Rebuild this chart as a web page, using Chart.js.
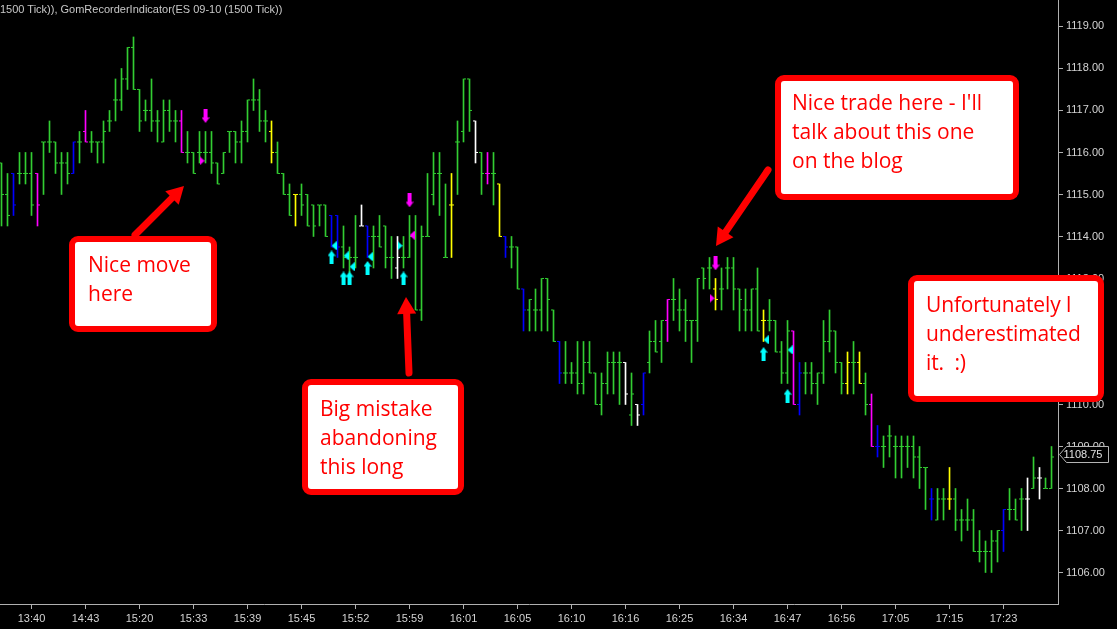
<!DOCTYPE html>
<html><head><meta charset="utf-8">
<script src="https://cdn.jsdelivr.net/npm/chart.js@4.4.0/dist/chart.umd.min.js"></script>
<style>
html,body{margin:0;padding:0;background:#000;overflow:hidden;}
#wrap{position:relative;width:1117px;height:629px;background:#000;}
#c{position:absolute;left:0;top:0;}
.box{position:absolute;box-sizing:border-box;border:6px solid #ff0000;border-radius:9px;background:#fff;}
.txt{position:absolute;font-family:'Open Sans',sans-serif;font-size:21px;line-height:29px;color:#ff0000;white-space:nowrap;}
#hdr{position:absolute;left:0;top:3px;font-family:'Liberation Sans',Arial,sans-serif;font-size:11px;line-height:13px;color:#c8c8c8;white-space:nowrap;letter-spacing:0px;}
svg{position:absolute;left:0;top:0;}
</style></head>
<body>
<div id="wrap">
<canvas id="c" width="1117" height="629"></canvas>
<div id="hdr">1500 Tick)), GomRecorderIndicator(ES 09-10 (1500 Tick))</div>
<svg id="arrows" width="1117" height="629"></svg>
<div class="box" style="left:69px;top:236px;width:148px;height:96px;"></div>
<div class="txt" style="left:88px;top:250px;">Nice move<br>here</div>
<div class="box" style="left:302px;top:379px;width:162px;height:116px;"></div>
<div class="txt" style="left:320px;top:394px;">Big mistake<br>abandoning<br>this long</div>
<div class="box" style="left:775px;top:75px;width:244px;height:125px;"></div>
<div class="txt" style="left:792px;top:88px;">Nice trade here - I'll<br>talk about this one<br>on the blog</div>
<div class="box" style="left:908px;top:275px;width:196px;height:127px;"></div>
<div class="txt" style="left:926px;top:290px;letter-spacing:-0.15px;">Unfortunately I<br>underestimated<br>it.&nbsp; :)</div>
</div>
<script>
// ---- data ----
const highs = [1115.75,1115.5,1115.5,1116,1116,1116,1115.5,1116.25,1116.75,1116.25,
 1116,1116,1116.25,1116.5,1117,1116.5,1116.25,1116.75,1117,1117.75,
 1118,1118.5,1118.75,1117.5,1117.25,1117.75,1117,1117.25,1117.25,1117,
 1117,1116.5,1116,1116.5,1116.5,1116.5,1115.75,1116,1116.5,1116.5,
 1116.75,1117.25,1117.75,1117.5,1117,1116.75,1116.25,1115.5,1115.25,1115,
 1115.25,1115,1114.75,1114.75,1114.75,1114.5,1114.5,1114.25,1113.75,1114.5,
 1114.75,1114.25,1114.25,1114.5,1114.25,1114,1114,1114,1114.5,1114.5,
 1114.25,1115.5,1116,1116,1115.25,1115.5,1116.75,1117.75,1117.75,1116.75,
 1116,1116,1116,1115.25,1114,1114,1113.75,1112.75,1112.5,1112.75,
 1113,1113,1112.25,1111.5,1111.5,1111,1111.5,1111.5,1111.5,1110.75,
 1110.75,1111.25,1111.25,1111.25,1111,1110.75,1110,1110.75,1111.75,1112,
 1112,1112.5,1113,1112.75,1112.5,1112,1113,1113.25,1113.5,1113,
 1113.25,1113.5,1113.5,1112.75,1112.75,1112.75,1113.25,1112.25,1112.5,1112,
 1111.5,1112,1111.75,1111,1111,1111,1110.75,1112,1112.25,1111.75,
 1111,1111.25,1111.5,1111.25,1110.75,1110.25,1109.5,1109.25,1109.5,1109.25,
 1109.25,1109.25,1109.25,1109,1108.5,1108,1108,1108,1108.5,1108,
 1107.5,1107.75,1107.5,1107,1106.75,1107,1107,1107.5,1108,1107.75,
 1108,1108.25,1108.75,1108.5,1108.25,1109];
const lows = [1114.25,1114.25,1114.5,1115.25,1115.25,1114.5,1114.25,1115,1116,1115.5,
 1115,1115.25,1115.5,1115.75,1116.25,1116,1115.75,1115.75,1116.5,1116.75,
 1117,1117.5,1117.5,1116.5,1116.75,1116.5,1116.25,1116.25,1116.5,1116.25,
 1116,1115.75,1115.5,1115.75,1115.75,1115.5,1115.25,1115.5,1116,1115.75,
 1115.75,1116.25,1117,1116.5,1116.25,1115.75,1115.5,1115,1114.5,1114.25,
 1114.5,1114.25,1114,1114.25,1114,1113.75,1113.5,1113.25,1113,1113.25,
 1114.25,1113.5,1113.25,1113.75,1113.25,1113,1113,1113.25,1113.5,1112.25,
 1112,1114,1114.75,1114.5,1113.5,1113.5,1115,1116.25,1116.5,1115.75,
 1115,1115.25,1114.75,1114,1113.5,1113.25,1112.75,1111.75,1111.75,1111.75,
 1111.75,1111.75,1111.5,1110.5,1110.5,1110.5,1110.25,1110.25,1110.75,1110,
 1109.75,1110.25,1110.25,1110,1110,1109.5,1109.5,1109.75,1110.75,1111.25,
 1111,1111.5,1112,1111.75,1111.5,1111,1111.5,1112.75,1112.75,1112.25,
 1112.25,1112.75,1112.25,1111.75,1111.75,1111.75,1111.75,1111.5,1111.75,1111.25,
 1110.5,1110.5,1110,1109.75,1110.25,1110.25,1110,1110.5,1111.25,1110.75,
 1110.25,1110.25,1110.25,1110.5,1109.75,1109,1108.75,1108.5,1108.75,1108.25,
 1108.25,1108.5,1108.25,1108,1107.5,1107.25,1107.25,1107.25,1107.5,1107,
 1106.75,1107,1106.5,1106.25,1106,1106,1106.25,1106.5,1107.25,1107.25,
 1107,1107,1108,1107.75,1108,1108];
const opens = [1115.75,1115,1115.5,1115.5,1115.5,1115.5,1115.5,1116.25,1116.25,1116.25,
 1115.75,1115.75,1115.5,1116.25,1116.5,1116.25,1116.25,1116.25,1116.75,1117.25,
 1117.25,1117.75,1118.5,1117.5,1117,1117,1116.75,1116.25,1117,1116.75,
 1116.75,1116,1116,1116,1116,1116,1115.75,1115.5,1116.5,1116.5,
 1116.25,1116.5,1117.25,1117.25,1116.75,1116.5,1116,1115.5,1115,1115,
 1115,1115,1114.75,1114.75,1114.75,1114.5,1114.5,1113.75,1113.5,1113.5,
 1114.25,1114.25,1114,1114,1114.25,1113.5,1113.25,1113.5,1113.5,1114,
 1112.25,1114,1115,1115.5,1113.5,1114.75,1116.25,1116.5,1117.75,1116.75,
 1116,1115.5,1115.5,1115.25,1114,1113.75,1113.75,1112.75,1112.25,1112.25,
 1112.25,1113,1112.25,1111.5,1110.75,1110.75,1110.75,1110.5,1111,1110.75,
 1110,1110.5,1111,1111,1111,1109.75,1110,1110,1111,1111.5,
 1111.5,1112,1112.5,1112.25,1112.25,1112,1112,1113.25,1113.25,1112.75,
 1112.75,1113.25,1113.25,1112.75,1112.25,1112.25,1112.75,1112,1112,1112,
 1111.25,1110.75,1111.75,1110,1110.75,1110.75,1110.5,1110.75,1111.5,1111.75,
 1111,1110.5,1111,1111,1110.5,1110,1109,1109,1109.25,1109,
 1109,1109,1109,1108.75,1108.5,1107.75,1107.25,1107.75,1107.75,1107.75,
 1107.25,1107.25,1107.25,1106.5,1106.5,1106.5,1106.75,1107,1107.5,1107.5,
 1107.75,1107.75,1108,1108.25,1108,1108];
const closes = [1115,1114.5,1114.75,1115.5,1115.5,1114.75,1114.75,1116.25,1116.25,1115.75,
 1115.75,1115.5,1116.25,1116.25,1116.25,1116.25,1116.25,1116.5,1116.75,1117.25,
 1117.75,1118.5,1117.5,1116.75,1117,1116.75,1116.75,1117,1116.75,1116.75,
 1116,1116,1115.5,1116,1116,1115.75,1115.25,1116,1116.5,1116.25,
 1116.5,1117.25,1117.25,1116.75,1116.75,1116,1115.5,1115,1114.5,1115,
 1114.75,1114.25,1114.25,1114.75,1114,1113.75,1113.75,1113.5,1113.5,1113.5,
 1114.25,1114,1114,1113.75,1113.5,1113.5,1113.5,1113.5,1114,1112.25,
 1114,1114,1115.5,1115.5,1113.5,1114.75,1116.25,1117.75,1117,1116,
 1115.5,1115.5,1115.5,1114,1113.75,1113.75,1112.75,1112.25,1112.5,1112.25,
 1113,1112.5,1111.5,1110.75,1110.75,1110.75,1110.5,1111,1110.75,1110,
 1110.5,1111,1111,1111,1110.25,1110.25,1109.75,1110.75,1111.5,1111.25,
 1112,1112.5,1112.5,1112.25,1112,1112,1113,1113,1113.25,1112.5,
 1112.75,1113.25,1112.75,1112.5,1112.25,1112.75,1111.75,1112,1112,1111.25,
 1110.75,1111.75,1110,1110.75,1110.75,1110.5,1110.75,1111.5,1111.75,1111,
 1110.5,1111,1111,1110.5,1110,1109,1109,1109,1109.25,1109,
 1109,1109,1108.75,1108.5,1108.5,1107.75,1107.75,1107.75,1107.75,1107.25,
 1107.25,1107.25,1106.5,1106.5,1106.5,1106.75,1107,1107.5,1107.5,1107.25,
 1107.75,1107.75,1108.25,1108.25,1108,1108.75];
// bar colour codes: g green, m magenta, b blue, y yellow, w white
const barCodes = ("ggbgggmggg"+"ggbgmggggg"+"gggggggggg"+"mggggggggg"+"gggggygggy"+
  "gggggbbggg"+"wbggggwggg"+"gggggygggw"+"gmgybggbgg"+"gggbgggggg"+
  "ggggwgwbgg"+"gmgggggggy"+"gggggggygg"+"ggmbgggggg"+"gygygmbggg"+
  "gggggbggyg"+"gggggggbgg"+"gwgwgg").split('');
const tickIdx = [5,14,23,32,41,50,59,68,77,86,95,104,113,122,131,140,149,158,167];
const tickLabels = ['13:40','14:43','15:20','15:33','15:39','15:45','15:52','15:59','16:01','16:05',
  '16:10','16:16','16:25','16:34','16:47','16:56','17:05','17:15','17:23'];
const priceTicks = [1106,1107,1108,1109,1110,1111,1112,1113,1114,1115,1116,1117,1118,1119];
// signals: bar index + price
const cyanUpBars = [55,57,58,61,67,127,131];
const cyanUpPrices = [1113.5,1113.0,1113.0,1113.25,1113.0,1111.2,1110.2];
const cyanLeftBars = [55,57,58,61,127,131];
const cyanLeftPrices = [1113.78,1113.54,1113.28,1113.52,1111.54,1111.3];
const cyanRightBars = [66];
const cyanRightPrices = [1113.78];
const magDownBars = [34,68,119];
const magDownPrices = [1116.87,1114.86,1113.36];
const magRightBars = [33,118];
const magRightPrices = [1115.8,1112.53];
const magLeftBars = [68];
const magLeftPrices = [1114.03];

// ---- styling ----
const palette = {g:'#32cd32', m:'#ff00ff', b:'#0000ff', y:'#ffff00', w:'#ffffff'};
const barColors = barCodes.map(c => palette[c]);
const X_MIN = -0.25, X_MAX = 176.08, Y_MIN = 1105.25, Y_MAX = 1119.63;
const TRI_OFF = 0.42;

function arrowImg(color, down){
  const c = document.createElement('canvas'); c.width = 8; c.height = 14;
  const g = c.getContext('2d');
  if (down){ g.translate(0,14); g.scale(1,-1); }
  g.fillStyle = color;
  g.beginPath();
  g.moveTo(4,0); g.lineTo(8,5.5); g.lineTo(6,5.5); g.lineTo(6,14); g.lineTo(2,14); g.lineTo(2,5.5); g.lineTo(0,5.5);
  g.closePath(); g.fill();
  return c;
}
function triImg(color, left){
  const c = document.createElement('canvas'); c.width = 5; c.height = 9;
  const g = c.getContext('2d');
  g.fillStyle = color; g.beginPath();
  if (left){ g.moveTo(0,4.5); g.lineTo(5,0); g.lineTo(5,9); }
  else { g.moveTo(5,4.5); g.lineTo(0,0); g.lineTo(0,9); }
  g.closePath(); g.fill();
  return c;
}
function markerSet(bars, prices, off, img){
  return { type:'scatter', data: bars.map((b,k)=>({x:b+off, y:prices[k]})),
    pointStyle: img, pointRadius: 4, pointHoverRadius: 4, showLine:false, order:0 };
}

const priceMarker = {
  id:'priceMarker',
  afterDraw(chart){
    const ctx = chart.ctx, ys = chart.scales.y;
    const last = closes[closes.length-1];
    const y = Math.round(ys.getPixelForValue(last)) - 2.5;
    const x = chart.chartArea.right + 0.5;
    ctx.save();
    ctx.fillStyle = '#000'; ctx.strokeStyle = '#b4b4b4'; ctx.lineWidth = 1;
    ctx.beginPath();
    ctx.moveTo(x+1, y); ctx.lineTo(x+8, y-8); ctx.lineTo(1108.5, y-8); ctx.lineTo(1108.5, y+8); ctx.lineTo(x+8, y+8);
    ctx.closePath(); ctx.fill(); ctx.stroke();
    ctx.fillStyle = '#e0e0e0'; ctx.font = '11px "Liberation Sans", Arial'; ctx.textBaseline = 'middle'; ctx.textAlign = 'left';
    ctx.fillText(last.toFixed(2), x+5, y+0.5);
    ctx.restore();
  }
};

new Chart(document.getElementById('c').getContext('2d'), {
  type:'bar',
  data:{ datasets:[
    { type:'bar', data: highs.map((h,i)=>({x:i, y:[lows[i], h]})), backgroundColor: barColors,
      barThickness:1, borderWidth:0, order:3 },
    { type:'scatter', data: opens.map((o,i)=>({x:i-0.25, y:o})), pointStyle:'line', pointRadius:1, pointHoverRadius:1,
      pointBorderWidth:1, pointBorderColor: barColors, showLine:false, order:2 },
    { type:'scatter', data: closes.map((c,i)=>({x:i+0.25, y:c})), pointStyle:'line', pointRadius:1, pointHoverRadius:1,
      pointBorderWidth:1, pointBorderColor: barColors, showLine:false, order:2 },
    markerSet(cyanUpBars, cyanUpPrices, 0, arrowImg('#00ffff', false)),
    markerSet(cyanLeftBars, cyanLeftPrices, TRI_OFF, triImg('#00ffff', true)),
    markerSet(cyanRightBars, cyanRightPrices, TRI_OFF, triImg('#00ffff', false)),
    markerSet(magDownBars, magDownPrices, 0, arrowImg('#ff00ff', true)),
    markerSet(magRightBars, magRightPrices, TRI_OFF, triImg('#ff00ff', false)),
    markerSet(magLeftBars, magLeftPrices, TRI_OFF, triImg('#ff00ff', true))
  ]},
  options:{
    responsive:false, animation:false, devicePixelRatio:1,
    events:[],
    layout:{padding:0, autoPadding:false},
    plugins:{legend:{display:false}, tooltip:{enabled:false}},
    scales:{
      x:{ type:'linear', min:X_MIN, max:X_MAX, offset:false, position:'bottom',
        afterBuildTicks: s => { s.ticks = tickIdx.map(v => ({value:v})); },
        afterFit: s => { s.height = 25; s.paddingLeft = 0; s.paddingRight = 0; },
        ticks:{ autoSkip:false, maxRotation:0, padding:3, color:'#d4d4d4',
          font:{family:'"Liberation Sans", Arial', size:11},
          callback: v => { const k = tickIdx.indexOf(v); return k >= 0 ? tickLabels[k] : ''; } },
        grid:{ offset:false, drawOnChartArea:false, drawTicks:true, tickLength:5, color:'#b0b0b0', tickColor:'#b0b0b0' },
        border:{ display:true, color:'#b0b0b0', width:1 }
      },
      y:{ type:'linear', position:'right', min:Y_MIN, max:Y_MAX,
        afterBuildTicks: s => { s.ticks = priceTicks.map(v => ({value:v})); },
        afterFit: s => { s.width = 59; s.paddingTop = 0; s.paddingBottom = 0; },
        ticks:{ autoSkip:false, padding:3, color:'#d4d4d4',
          font:{family:'"Liberation Sans", Arial', size:11},
          callback: v => Number(v).toFixed(2) },
        grid:{ offset:false, drawOnChartArea:false, drawTicks:true, tickLength:5, color:'#b0b0b0', tickColor:'#b0b0b0' },
        border:{ display:true, color:'#b0b0b0', width:1 }
      }
    }
  },
  plugins:[priceMarker]
});

// ---- annotation arrows ----
(function(){
  const svg = document.getElementById('arrows');
  const NS = 'http://www.w3.org/2000/svg';
  const arrows = [ [135,235,184,186], [409,373,406,297], [768,170,716,246] ];
  arrows.forEach(([x1,y1,x2,y2]) => {
    const dx = x2-x1, dy = y2-y1, L = Math.hypot(dx,dy), ux = dx/L, uy = dy/L;
    const hl = 17, hw = 9.5;
    const bx = x2 - ux*hl, by = y2 - uy*hl;
    const line = document.createElementNS(NS,'line');
    line.setAttribute('x1',x1); line.setAttribute('y1',y1);
    line.setAttribute('x2',bx+ux*2); line.setAttribute('y2',by+uy*2);
    line.setAttribute('stroke','#ff0000'); line.setAttribute('stroke-width','7'); line.setAttribute('stroke-linecap','round');
    svg.appendChild(line);
    const poly = document.createElementNS(NS,'polygon');
    poly.setAttribute('points', `${x2},${y2} ${bx - uy*hw},${by + ux*hw} ${bx + uy*hw},${by - ux*hw}`);
    poly.setAttribute('fill','#ff0000');
    svg.appendChild(poly);
  });
})();
</script>
</body></html>
